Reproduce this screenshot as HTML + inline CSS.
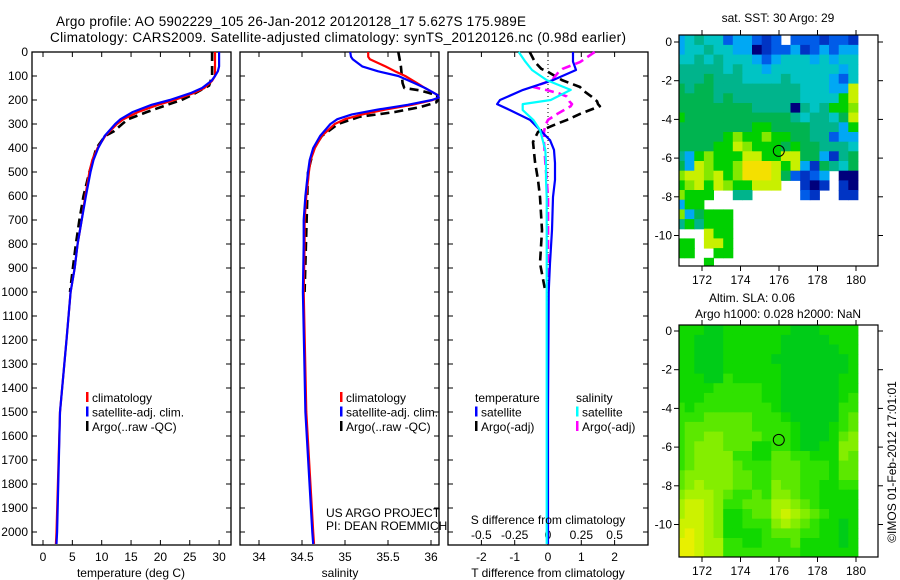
<!DOCTYPE html>
<html><head><meta charset="utf-8"><title>Argo profile</title>
<style>
html,body{margin:0;padding:0;background:#fff;}
svg{display:block;font-family:"Liberation Sans",sans-serif;}
</style></head>
<body>
<svg id="fig" width="900" height="580" viewBox="0 0 900 580" xmlns="http://www.w3.org/2000/svg">
<rect width="900" height="580" fill="#fff"/>
<text x="56" y="26" font-size="13.5" textLength="470">Argo profile: AO 5902229_105 26-Jan-2012 20120128_17 5.627S 175.989E</text>
<text x="50" y="42" font-size="13.5" textLength="576">Climatology: CARS2009. Satellite-adjusted climatology: synTS_20120126.nc (0.98d earlier)</text>
<g id="plots"></g>
<text x="131" y="577" font-size="12" text-anchor="middle">temperature (deg C)</text>
<text x="340" y="577" font-size="12" text-anchor="middle">salinity</text>
<text x="548" y="577" font-size="12" text-anchor="middle">T difference from climatology</text>
<text x="548" y="524" font-size="12" text-anchor="middle">S difference from climatology</text>
<text x="326" y="517" font-size="12">US ARGO PROJECT</text>
<text x="326" y="530" font-size="12">PI: DEAN ROEMMICH</text>
<text x="778" y="22" font-size="12" text-anchor="middle">sat. SST: 30 Argo: 29</text>
<text x="752" y="302" font-size="12" text-anchor="middle">Altim. SLA: 0.06</text>
<text x="778" y="318" font-size="12" text-anchor="middle">Argo h1000: 0.028 h2000: NaN</text>
<text x="0" y="0" font-size="12" text-anchor="middle" transform="translate(896,462) rotate(-90)">©IMOS 01-Feb-2012 17:01:01</text>
</svg>
<script>
// ---------- profile data ----------
const climDepth = [0,20,40,60,80,100,120,150,170,200,220,250,280,300,350,400,450,500,600,700,800,900,1000,1200,1500,2000,2050];
const climTemp  = [29.3,29.3,29.3,29.3,29.3,29.3,28.8,27.5,25.8,22.4,19.6,16.2,13.7,12.6,10.6,9.3,8.4,7.9,7.2,6.6,5.9,5.4,4.7,4.0,2.9,2.3,2.2];
const satTemp   = [30.0,30.0,30.0,30.0,29.8,29.3,28.7,27.1,25.3,21.6,18.5,15.3,13.2,12.3,10.5,9.4,8.6,8.1,7.3,6.6,5.9,5.4,4.7,4.0,2.9,2.4,2.3];
const argoDepth = [0,20,40,60,80,100,140,160,180,200,220,250,280,300,330,350,400,500,600,700,800,900,1000];
const argoTemp  = [28.8,28.8,28.8,28.8,28.8,28.8,28.3,26.8,25.3,23.6,21.2,17.7,14.5,13.5,12.1,10.6,9.1,7.9,6.9,6.2,5.6,5.1,4.6];

const salDepth  = [0,20,30,60,80,100,130,150,180,190,200,220,240,260,280,300,350,400,450,500,600,700,800,1000,1500,2000,2050];
const climSal   = [35.27,35.27,35.29,35.47,35.58,35.70,35.84,35.93,36.08,36.09,36.02,35.78,35.47,35.20,35.00,34.88,34.73,34.65,34.60,34.58,34.55,34.53,34.53,34.52,34.55,34.63,34.64];
const satSal    = [35.06,35.07,35.09,35.20,35.38,35.62,35.81,35.93,36.08,36.09,36.01,35.73,35.38,35.08,34.91,34.83,34.71,34.63,34.59,34.57,34.54,34.52,34.52,34.51,34.54,34.62,34.63];
const argoSalDepth = [0,20,60,100,130,150,160,170,180,200,210,230,250,270,290,300,350,400,500,1000];
const argoSal   = [35.62,35.63,35.65,35.66,35.67,35.69,35.87,35.97,36.07,36.08,36.06,35.87,35.58,35.17,35.00,34.92,34.73,34.64,34.57,34.53];

const diffDepth = [0,40,75,117,158,200,217,242,283,325,367,408,463,533,604,742,880,1000,1500,2050];
const satTdiff  = [0.75,0.75,0.84,0.15,-0.75,-1.44,-1.53,-1.14,-0.54,-0.24,0.06,0.18,0.21,0.21,0.15,0.12,0.06,0.02,0.0,0.0];
const satSdiff  = [-0.22,-0.17,-0.12,-0.01,0.17,0.02,-0.19,-0.19,-0.11,-0.06,-0.04,-0.02,-0.015,-0.015,-0.01,-0.01,-0.01,-0.01,-0.01,-0.01];
const argoDiffDepth = [0,42,70,83,117,146,160,172,185,205,217,226,258,283,306,333,375,458,533,604,742,880,990];
const argoTdiff = [-0.55,-0.39,-0.2,0.0,0.42,0.96,1.05,1.17,1.3,1.47,1.5,1.56,0.96,0.57,0.15,-0.3,-0.45,-0.39,-0.3,-0.24,-0.18,-0.24,-0.09];
const argoSdiff = [0.35,0.24,0.11,0.08,0.03,-0.11,0.0,0.08,0.14,0.16,0.18,0.17,0.07,0.0,-0.02,-0.03,-0.03,-0.02,-0.01,0.0,0.0,0.0,0.0];

const depthTicks = [0,100,200,300,400,500,600,700,800,900,1000,1100,1200,1300,1400,1500,1600,1700,1800,1900,2000];
const tempTicks = [0,5,10,15,20,25,30];
const salTicks = [34,34.5,35,35.5,36];
const tdiffTicks = [-2,-1,0,1,2];
const sdiffTicks = [-0.5,-0.25,0,0.25,0.5];
const sdiffTickLabels = ["-0.5","-0.25","0","0.25","0.5"];

// ---------- map data ----------
const sstPalette = ["#00007c","#0034c4","#005ce8","#00a8f4","#00c4c4","#00b48c","#00b450","#00d000","#84e800","#c8f000","#f4e000"];
const sstRows = [
"34544233212.2221221",
"3445443301223123233",
"4454544432344434344",
"5555545443444444434",
"5556555444454444324",
"6566555555555444339",
"6666565555555444479",
"6666666655550545778",
"7666666666665455469",
"6666666677666655537",
"6666678778776655233",
"6666779877767665554",
"5378777997799663156",
"6398778aaa979316546",
"8998978aaa962123.00",
"78979877999..101.10",
"8777..55.....21..11",
"377................",
"836777.............",
"575777.............",
"...977.............",
"77.997.............",
"77..77.............",
"...7..............."];
const slaPalette = ["#00cc18","#10d800","#30e200","#5ce800","#84ee00","#a8f200","#ccf200","#e8f000"];
const slaRows = [
"1110011111110001111",
"1100011111100000111",
"1100011111100000011",
"1100011111000000001",
"1100011111100000001",
"1110021111100000011",
"1111222221100000011",
"1112222221100000012",
"2122222222100000022",
"2223333322210000023",
"2333333322221000123",
"2334433332221000134",
"2344433311221001144",
"2344442211332211143",
"2344443222333222133",
"3444443322333222133",
"3454443322433221122",
"4555432232443221111",
"5665422333554321111",
"5665411233565432111",
"6665411222454321101",
"6765411112333221101",
"7765522112223111101",
"7765522222222111111"];
const mapLonStart = 170.6, mapCellDeg = 0.5;
const sstLatStart = 0.35, slaLatStart = 0.3;
const lonTicks = [172,174,176,178,180];
const latTicks = [0,-2,-4,-6,-8,-10];
const argoLon = 175.989, argoLat = -5.627;

// ---------- drawing ----------
const NS = "http://www.w3.org/2000/svg";
const root = document.getElementById('plots');
function mk(tag, attrs, parent){
  const e = document.createElementNS(NS, tag);
  for (const k in attrs) e.setAttribute(k, attrs[k]);
  (parent||root).appendChild(e);
  return e;
}
const top0 = 52, bot0 = 545;
function yD(d){ return top0 + d*0.24; }

function panel(name, x0, x1, xs, ticks, labels){
  const g = mk('g', {});
  
  
  const fr = mk('rect', {x:x0, y:top0, width:x1-x0, height:bot0-top0, fill:'none', stroke:'#000', 'stroke-width':1.3}, g);
  
  
  depthTicks.forEach(d=>{
    const y = yD(d);
    mk('line', {x1:x0, x2:x0+5, y1:y, y2:y, stroke:'#000'}, g);
    mk('line', {x1:x1-5, x2:x1, y1:y, y2:y, stroke:'#000'}, g);
  });
  if (xs){
    ticks.forEach((t,i)=>{
      const x = xs(t);
      mk('line', {x1:x, x2:x, y1:bot0, y2:bot0-5, stroke:'#000'}, g);
      mk('line', {x1:x, x2:x, y1:top0, y2:top0+5, stroke:'#000'}, g);
      const tx = mk('text', {x:x, y:561, 'font-size':12, 'text-anchor':'middle'}, g);
      tx.textContent = labels ? labels[i] : String(t);
      
      
    });
  }
  return g;
}
function line(g, xs, vals, depths, color, dashed, name, w){
  const pts = vals.map((v,i)=> xs(v).toFixed(1)+','+yD(depths[i]).toFixed(1)).join(' ');
  const p = mk('polyline', {points:pts, fill:'none', stroke:color, 'stroke-width':w||2.2, 'stroke-linejoin':'round'}, g);
  if (dashed) p.setAttribute('stroke-dasharray', '9,5');
  
  
}
function legend(g, x, y, items){
  items.forEach((it,i)=>{
    const yy = y + i*14.5;
    if (it.c) mk('rect', {x:x, y:yy-10, width:2.5, height:10, fill:it.c}, g);
    const t = mk('text', {x:x+(it.c?6:0), y:yy, 'font-size':12}, g);
    t.textContent = it.t;
    
    
  });
}

// Panel 1 temperature
const xT = t => 43 + t*5.87;
const p1 = panel('temperature-panel', 32, 231, xT, tempTicks);
depthTicks.forEach(d=>{
  const t = mk('text', {x:28, y:yD(d)+4, 'font-size':12, 'text-anchor':'end'}, p1);
  t.textContent = String(d);
  
  
});
line(p1, xT, argoTemp, argoDepth, '#000', true, 'argo-temperature-line', 2.6);
line(p1, xT, climTemp, climDepth, '#f00', false, 'climatology-temperature-line');
line(p1, xT, satTemp, climDepth, '#00f', false, 'satellite-temperature-line');
legend(p1, 86, 402, [{c:'#f00',t:'climatology'},{c:'#00f',t:'satellite-adj. clim.'},{c:'#000',t:'Argo(..raw -QC)'}]);

// Panel 2 salinity
const xS = s => 259 + (s-34)*86;
const p2 = panel('salinity-panel', 240, 439, xS, salTicks);
line(p2, xS, argoSal, argoSalDepth, '#000', true, 'argo-salinity-line', 2.6);
line(p2, xS, climSal, salDepth, '#f00', false, 'climatology-salinity-line');
line(p2, xS, satSal, salDepth, '#00f', false, 'satellite-salinity-line');
legend(p2, 340, 402, [{c:'#f00',t:'climatology'},{c:'#00f',t:'satellite-adj. clim.'},{c:'#000',t:'Argo(..raw -QC)'}]);

// Panel 3 differences
const xTd = t => 548 + t*33.3;
const xSd = s => 548 + s*133.3;
const p3 = panel('difference-panel', 448, 648, xTd, tdiffTicks);
sdiffTicks.forEach((s,i)=>{
  const t = mk('text', {x:xSd(s), y:539, 'font-size':12, 'text-anchor':'middle'}, p3);
  t.textContent = sdiffTickLabels[i];
  
  
});
const zl = mk('line', {x1:xTd(0), x2:xTd(0), y1:top0, y2:bot0, stroke:'#000', 'stroke-dasharray':'1,3'}, p3);


line(p3, xTd, argoTdiff, argoDiffDepth, '#000', true, 'argo-tdiff-line', 2.6);
line(p3, xSd, argoSdiff, argoDiffDepth, '#f0f', true, 'argo-sdiff-line', 2.6);
line(p3, xTd, satTdiff, diffDepth, '#00f', false, 'satellite-tdiff-line');
line(p3, xSd, satSdiff, diffDepth, '#0ff', false, 'satellite-sdiff-line');
legend(p3, 475, 402, [{c:null,t:'temperature'},{c:'#00f',t:'satellite'},{c:'#000',t:'Argo(-adj)'}]);
legend(p3, 576, 402, [{c:null,t:'salinity'},{c:'#0ff',t:'satellite'},{c:'#f0f',t:'Argo(-adj)'}]);

// Maps
const xL = l => 702 + (l-172)*19.25;
function map(name, fy0, fy1, lat0y, rows, pal, latStart){
  const yLat = la => lat0y - la*19.35;
  const g = mk('g', {});
  
  
  const cid = name + '-clip';
  const cp = mk('clipPath', {id:cid}, g);
  mk('rect', {x:679, y:fy0, width:199, height:fy1-fy0}, cp);
  const cells = mk('g', {'clip-path':'url(#'+cid+')'}, g);
  rows.forEach((r,j)=>{
    for (let i=0;i<r.length;i++){
      const ch = r[i];
      if (ch === '.') continue;
      const idx = parseInt(ch, 16);
      const lon = mapLonStart + i*mapCellDeg, lat = latStart - j*mapCellDeg;
      const x0 = xL(lon), x1 = Math.min(xL(lon+mapCellDeg), 858);
      const y0 = yLat(lat), y1 = yLat(lat-mapCellDeg);
      const c = mk('rect', {x:x0.toFixed(1), y:y0.toFixed(1), width:(x1-x0+0.5).toFixed(1), height:(y1-y0+0.5).toFixed(1), fill:pal[idx]}, cells);
      
      
    }
  });
  const fr = mk('rect', {x:679, y:fy0, width:199, height:fy1-fy0, fill:'none', stroke:'#000', 'stroke-width':1.2}, g);
  
  
  latTicks.forEach(la=>{
    const y = yLat(la);
    mk('line', {x1:679, x2:674, y1:y, y2:y, stroke:'#000'}, g);
    mk('line', {x1:878, x2:883, y1:y, y2:y, stroke:'#000'}, g);
    const t = mk('text', {x:672, y:y+4, 'font-size':12, 'text-anchor':'end'}, g);
    t.textContent = String(la);
    
    
  });
  lonTicks.forEach(lo=>{
    const x = xL(lo);
    mk('line', {x1:x, x2:x, y1:fy1, y2:fy1+5, stroke:'#000'}, g);
    mk('line', {x1:x, x2:x, y1:fy0, y2:fy0-5, stroke:'#000'}, g);
    const t = mk('text', {x:x, y:fy1+18, 'font-size':12, 'text-anchor':'middle'}, g);
    t.textContent = String(lo);
    
    
  });
  const c = mk('circle', {cx:xL(argoLon), cy:yLat(argoLat), r:5.5, fill:'none', stroke:'#000', 'stroke-width':1}, g);
  
  
}
map('sst-map', 35, 266, 42, sstRows, sstPalette, sstLatStart);
map('sla-map', 325, 557, 331, slaRows, slaPalette, slaLatStart);
</script>
</body></html>
